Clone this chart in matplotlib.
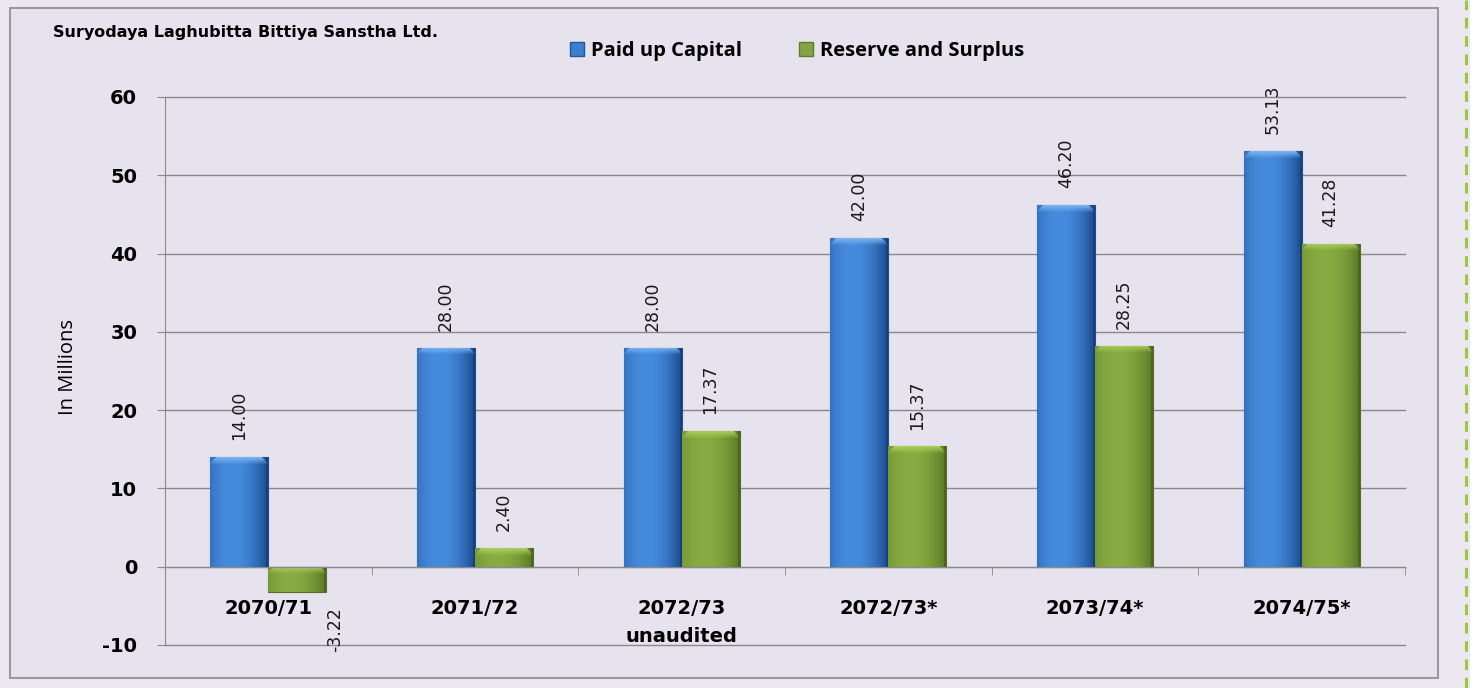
import numpy as np
import matplotlib.pyplot as plt
import matplotlib.patches as mpatches
from matplotlib.lines import Line2D

# data (NPR, in millions)
years = ['2070/71', '2071/72', '2072/73\nunaudited', '2072/73*', '2073/74*', '2074/75*']
paid_up_capital = [14.00, 28.00, 28.00, 42.00, 46.20, 53.13]
reserve_surplus = [-3.22, 2.40, 17.37, 15.37, 28.25, 41.28]

W, H, DPI = 1481, 688, 100
BG = '#e6e2ee'
GRID = '#8a8a8a'

plt.rcParams['axes.unicode_minus'] = False


def px(x, y):
    """pixel position -> figure fraction"""
    return x / W, 1 - y / H


fig = plt.figure(figsize=(W / DPI, H / DPI), dpi=DPI, facecolor='#ebe8f1')

# outer frame, white margin and dashed border on the right
fig.patches.append(mpatches.Rectangle(px(1470, 688), 11 / W, 1, transform=fig.transFigure,
                                      facecolor='white', edgecolor='none', zorder=-2))
fig.patches.append(mpatches.Rectangle(px(10, 678), 1428 / W, 670 / H, transform=fig.transFigure,
                                      facecolor=BG, edgecolor='#9a9a9a', lw=1.5, zorder=-2))
fig.lines.append(Line2D([1466 / W, 1466 / W], [0, 1], transform=fig.transFigure,
                        color='#9cc840', lw=2.2, dashes=(3.5, 2.5), zorder=-1))

ax = fig.add_axes([165 / W, 1 - 645 / H, 1240 / W, 548 / H])
ax.set_facecolor('none')
ax.set_xlim(-0.5, 5.5)
ax.set_ylim(-10, 60)

x = np.arange(len(years))
bw = 0.28
blue_bars = ax.bar(x - bw / 2, paid_up_capital, bw, color='#3a7fd0', zorder=3,
                   edgecolor='#1d4f8c', linewidth=0.8, label='Paid up Capital')
green_bars = ax.bar(x + bw / 2, reserve_surplus, bw, color='#82a543', zorder=3,
                    edgecolor='#566f25', linewidth=0.8, label='Reserve and Surplus')


def shade_bar(bar, edge, mid, top):
    """paint a bevelled gradient inside a bar"""
    x0, y0 = bar.get_x(), bar.get_y()
    w, h = bar.get_width(), bar.get_height()
    (_, p0), (_, p1) = ax.transData.transform([(x0, y0), (x0, y0 + h)])
    rows = max(int(abs(p1 - p0)), 2)
    cols = 60
    t = np.linspace(0, 1, cols)
    prof = np.clip(1 - ((t - 0.38) / 0.62) ** 2 * 1.1, 0, 1)
    edge, mid, top = (np.array(c, float) / 255 for c in (edge, mid, top))
    row = edge + (mid - edge) * prof[:, None]
    img = np.repeat(row[None, :, :], rows, axis=0)
    bev = min(7, rows // 2)
    for i in range(bev):
        a = 1 - i / bev
        inset = int((bev - i) * 0.9)
        img[i, inset:cols - inset] = img[i, inset:cols - inset] * (1 - a) + top * a
    img[:, -2:] *= 0.8
    lo, hi = min(y0, y0 + h), max(y0, y0 + h)
    im = ax.imshow(img, extent=[x0, x0 + w, lo, hi], origin='upper', aspect='auto',
                   zorder=3.5, interpolation='bilinear')
    im.set_clip_path(bar)


for b in blue_bars:
    shade_bar(b, (30, 80, 150), (70, 140, 222), (120, 180, 240))
for b in green_bars:
    shade_bar(b, (95, 125, 40), (136, 172, 66), (170, 205, 90))

ax.set_xlim(-0.5, 5.5)
ax.set_ylim(-10, 60)

# value labels
for b, v in zip(list(blue_bars) + list(green_bars), paid_up_capital + reserve_surplus):
    cx = b.get_x() + b.get_width() / 2
    if v >= 0:
        ax.annotate(f'{v:.2f}', (cx, v), xytext=(0, 12), textcoords='offset points',
                    rotation=90, ha='center', va='bottom', fontsize=12.5, color='#1a1a1a')
    else:
        ax.annotate(f'{v:.2f}', (cx, v), xytext=(27, -11), textcoords='offset points',
                    rotation=90, ha='center', va='top', fontsize=12.5, color='#1a1a1a')

# axes styling
for s in ('top', 'right'):
    ax.spines[s].set_visible(False)
ax.spines['left'].set_color(GRID)
ax.spines['bottom'].set_color(GRID)
ax.spines['bottom'].set_position(('data', 0))
ax.spines['bottom'].set_zorder(4)

ax.set_yticks(range(-10, 61, 10))
ax.yaxis.grid(True, color=GRID, lw=1)
for gl in ax.get_ygridlines():
    gl.set_clip_on(False)
ax.set_axisbelow(True)
ax.tick_params(axis='y', length=6, color=GRID, pad=14, labelsize=14)
for lab in ax.get_yticklabels():
    lab.set_fontweight('bold')

ax.set_xticks(x)
ax.set_xticklabels(years, fontsize=14, fontweight='bold', linespacing=1.6)
ax.set_xticks(np.arange(-0.5, 6, 1), minor=True)
ax.tick_params(axis='x', which='major', length=0, pad=23)
ax.tick_params(axis='x', which='minor', length=6, color=GRID)

fig.text(68 / W, 1 - 367 / H, 'In Millions', rotation=90, ha='center', va='center',
         fontsize=14.5, family='Open Sans')
fig.text(53 / W, 1 - 33 / H, 'Suryodaya Laghubitta Bittiya Sanstha Ltd.', ha='left', va='center',
         fontsize=11.5, fontweight='bold')

handles = [mpatches.Patch(facecolor='#3a7fd0', edgecolor='#1f5a9c'),
           mpatches.Patch(facecolor='#82a543', edgecolor='#5f7f2a')]
fig.legend(handles, ['Paid up Capital', 'Reserve and Surplus'], loc='center',
           bbox_to_anchor=px(797, 51), ncol=2, frameon=False, handlelength=0.7,
           handleheight=0.7, handletextpad=0.35, columnspacing=2.85,
           prop={'family': 'Open Sans', 'weight': 'bold', 'size': 14.5})

fig.savefig('out.png', dpi=DPI, facecolor=fig.get_facecolor())
